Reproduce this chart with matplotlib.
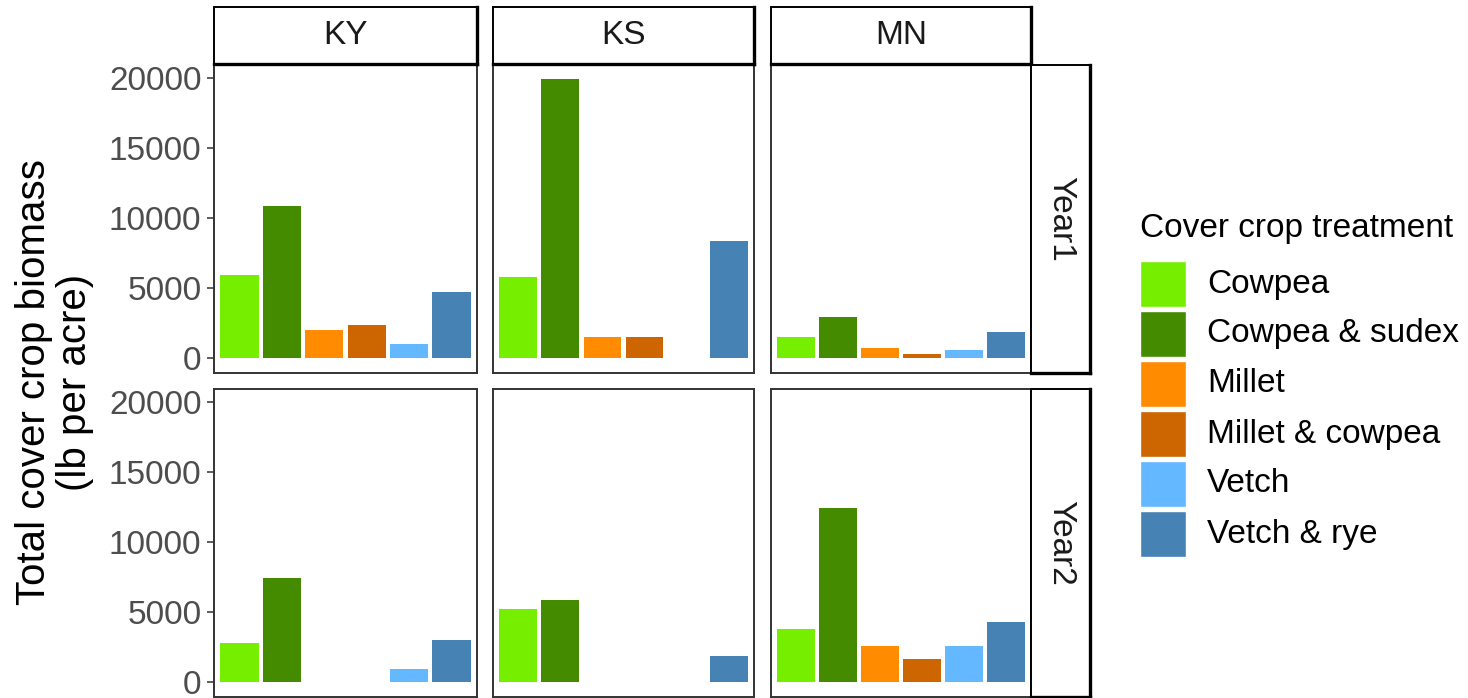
import numpy as np
import matplotlib
matplotlib.use("Agg")
import matplotlib.pyplot as plt
from matplotlib.patches import Rectangle

plt.rcParams['font.family'] = ['Liberation Sans', 'DejaVu Sans']

# cover crop biomass (lb per acre), NaN where a treatment was not grown
treatments = ['Cowpea', 'Cowpea & sudex', 'Millet', 'Millet & cowpea', 'Vetch', 'Vetch & rye']
colors = ['#76EE00', '#458B00', '#FF8C00', '#CD6600', '#63B8FF', '#4682B4']
sites = ['KY', 'KS', 'MN']
years = ['Year1', 'Year2']

ky_year1 = [5900, 10830, 2020, 2380, 1020, 4690]
ks_year1 = [5790, 19930, 1480, 1480, np.nan, 8380]
mn_year1 = [1520, 2900, 710, 290, 600, 1830]
ky_year2 = [2790, 7430, np.nan, np.nan, 950, 2980]
ks_year2 = [5240, 5880, np.nan, np.nan, np.nan, 1860]
mn_year2 = [3810, 12430, 2600, 1670, 2600, 4290]

values = {
    ('Year1', 'KY'): ky_year1, ('Year1', 'KS'): ks_year1, ('Year1', 'MN'): mn_year1,
    ('Year2', 'KY'): ky_year2, ('Year2', 'KS'): ks_year2, ('Year2', 'MN'): mn_year2,
}
yticks = [0, 5000, 10000, 15000, 20000]

W, H = 1468, 698
fig = plt.figure(figsize=(W / 100, H / 100), dpi=100)


def box(x0, y0, x1, y1):
    # pixel box (top-left origin) -> figure fraction rect
    return [x0 / W, 1 - y1 / H, (x1 - x0) / W, (y1 - y0) / H]


cols = [(214, 477), (493, 754), (771, 1031)]
rows = [(65, 373), (389, 697)]
border = '#333333'

x = np.arange(1, len(treatments) + 1)
for r, year in enumerate(years):
    for c, site in enumerate(sites):
        ax = fig.add_axes(box(cols[c][0], rows[r][0], cols[c][1], rows[r][1]))
        vals = np.array(values[(year, site)], dtype=float)
        keep = ~np.isnan(vals)
        ax.bar(x[keep], vals[keep], width=0.9,
               color=[colors[i] for i in np.where(keep)[0]])
        ax.set_xlim(0.4, 6.6)
        ax.set_ylim(-1070, 20930)
        ax.set_xticks([])
        for s in ax.spines.values():
            s.set_color(border)
            s.set_linewidth(1.4)
        if c == 0:
            ax.set_yticks(yticks)
            ax.tick_params(axis='y', length=5, width=1.1, color=border,
                           labelsize=24, labelcolor='#4D4D4D', pad=4)
        else:
            ax.set_yticks([])

# column strips
for c, site in enumerate(sites):
    sax = fig.add_axes(box(cols[c][0], 7, cols[c][1], 64))
    sax.set_xticks([])
    sax.set_yticks([])
    for name, s in sax.spines.items():
        s.set_color('black')
        s.set_linewidth(2.4 if name in ('bottom', 'right') else 1.4)
    sax.text(0.5, 0.5, site, ha='center', va='center', fontsize=24,
             color='#1A1A1A', transform=sax.transAxes)

# row strips
for r, year in enumerate(years):
    sax = fig.add_axes(box(1031, rows[r][0], 1090, rows[r][1]))
    sax.set_xticks([])
    sax.set_yticks([])
    for name, s in sax.spines.items():
        s.set_color('black')
        s.set_linewidth(2.4 if name in ('bottom', 'right') else 1.4)
    sax.text(0.5, 0.5, year, ha='center', va='center', fontsize=24,
             rotation=-90, color='#1A1A1A', transform=sax.transAxes)

# y axis title
fig.text(55 / W, 1 - 382 / H, 'Total cover crop biomass\n(lb per acre)',
         ha='center', va='center', rotation=90, fontsize=29,
         linespacing=1.1, color='black')

# legend
fig.text(1140 / W, 1 - 228 / H, 'Cover crop treatment', ha='left',
         va='center', fontsize=24, color='black')
for i, (lab, col) in enumerate(zip(treatments, colors)):
    y0 = 259 + i * 50
    fig.patches.append(Rectangle((1140 / W, 1 - (y0 + 48) / H), 46 / W, 46 / H,
                                 transform=fig.transFigure, facecolor=col,
                                 edgecolor='white', linewidth=1))
    fig.text(1207 / W, 1 - (y0 + 25) / H, lab, ha='left', va='center',
             fontsize=24, color='black')

fig.savefig('out.png', dpi=100, facecolor='white')
